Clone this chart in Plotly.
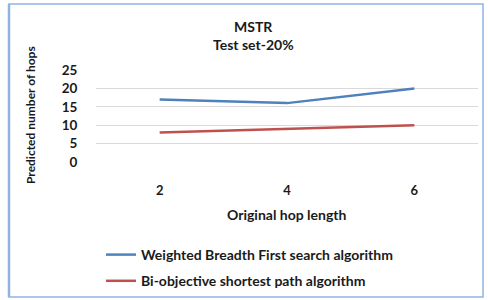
import plotly.graph_objects as go

categories = ["2", "4", "6"]
wbfs = [17, 16, 20]
bosp = [8, 9, 10]
y_ticks = [0, 5, 10, 15, 20, 25]

FONT = "Lato"
TXT = "#1a1a1a"

fig = go.Figure()
fig.add_trace(go.Scatter(x=categories, y=wbfs, mode="lines",
                         name="Weighted Breadth First search algorithm",
                         legendgroup="a",
                         line=dict(color="#4F81BD", width=2.5)))
fig.add_trace(go.Scatter(x=categories, y=bosp, mode="lines",
                         name="Bi-objective shortest path algorithm",
                         legendgroup="b",
                         line=dict(color="#C0504D", width=2.5)))

L, R, T, B = 96, 10, 70, 138
W, H = 488, 300
pw = W - L - R
ph = H - T - B

def px(x):
    return (x - L) / pw

def py(y):
    return (H - B - y) / ph

fig.update_layout(
    width=W, height=H,
    margin=dict(l=L, r=R, t=T, b=B, autoexpand=False),
    paper_bgcolor="white", plot_bgcolor="white",
    font=dict(family=FONT, size=12, color=TXT),
    showlegend=True,
    legend=dict(xref="container", yref="container",
                x=101 / W, y=1 - 239 / H, xanchor="left", yanchor="top",
                font=dict(family=FONT, size=14, color=TXT, weight="bold"),
                tracegroupgap=5, itemwidth=30, bgcolor="rgba(0,0,0,0)"),
    xaxis=dict(type="category", range=[-0.5, 2.5], showgrid=False,
               zeroline=False, showline=False,
               ticks="outside", ticklen=16, tickcolor="rgba(0,0,0,0)",
               tickfont=dict(family=FONT, size=13, color=TXT, weight="bold")),
    yaxis=dict(range=[0, 25], tickvals=y_ticks, showgrid=True,
               gridcolor="#D9D9D9", gridwidth=1, zeroline=False, showline=False,
               ticks="outside", ticklen=15, tickcolor="rgba(0,0,0,0)",
               tickfont=dict(family=FONT, size=13.5, color=TXT, weight="bold")),
)

fig.add_shape(type="rect", xref="paper", yref="paper",
              x0=px(9), x1=px(483), y0=py(297), y1=py(4),
              line=dict(color="#8EB4E3", width=1.5), layer="below")
fig.add_shape(type="line", xref="paper", yref="paper",
              x0=px(9), x1=px(9), y0=py(297), y1=py(4),
              line=dict(color="#8EB4E3", width=2.5))

ann_font = dict(family=FONT, size=14, color=TXT, weight="bold")
common = dict(xref="paper", yref="paper", showarrow=False,
              xanchor="center", yanchor="middle")
fig.add_annotation(text="MSTR", x=px(253), y=py(27), font=ann_font, **common)
fig.add_annotation(text="Test set-20%", x=px(253), y=py(45), font=ann_font, **common)
fig.add_annotation(text="Original hop length", x=px(287), y=py(214),
                   font=dict(family=FONT, size=14, color=TXT, weight="bold"), **common)
fig.add_annotation(text="Predicted number of hops", x=px(30), y=py(115),
                   textangle=-90,
                   font=dict(family=FONT, size=12, color=TXT, weight="bold"), **common)

fig.write_html("out.html", config={"displayModeBar": False},
               post_script="document.body.style.margin='0';document.body.style.padding='0';")
